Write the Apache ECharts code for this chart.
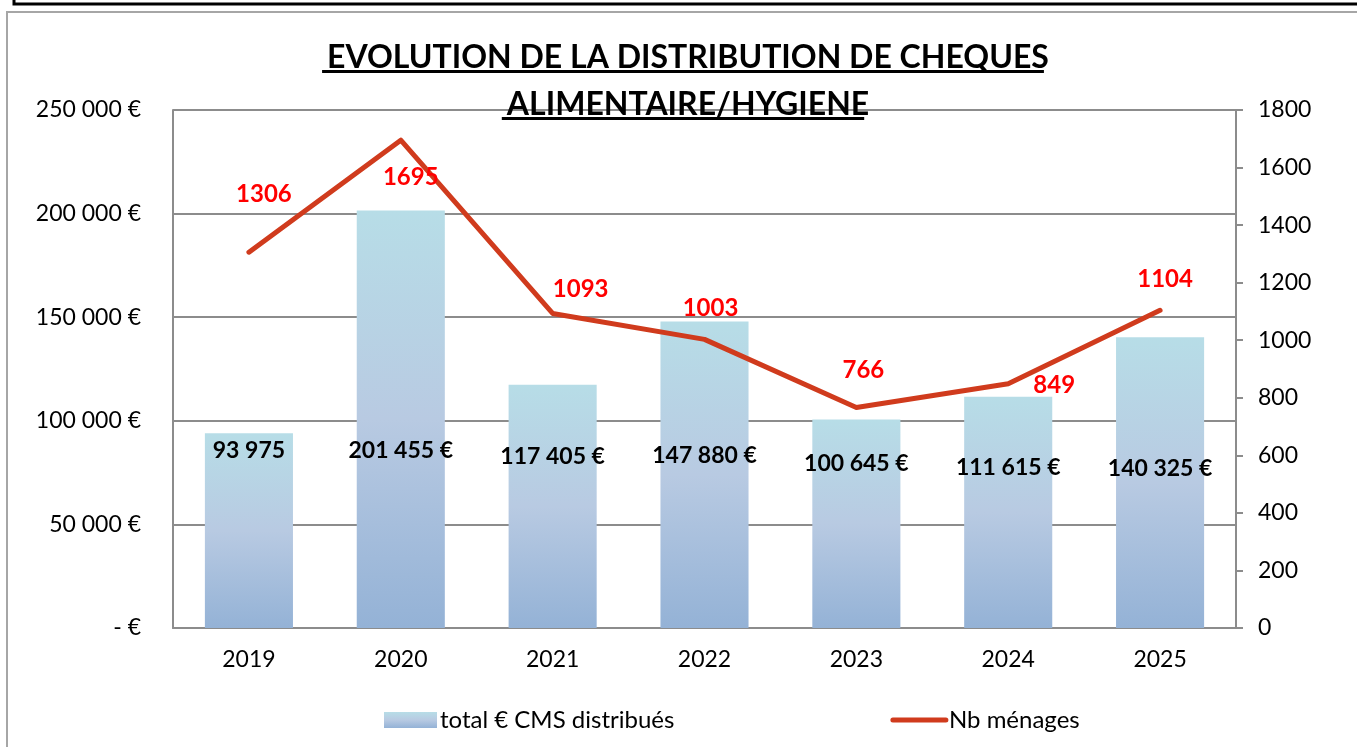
<!DOCTYPE html>
<html>
<head>
<meta charset="utf-8">
<script src="https://cdn.jsdelivr.net/npm/echarts@6/dist/echarts.min.js"></script>
<style>
  html, body { margin: 0; padding: 0; background: #fff; }
  #main { width: 1357px; height: 747px; }
</style>
</head>
<body>
<div id="main"></div>
<script>
// données
var years = ['2019', '2020', '2021', '2022', '2023', '2024', '2025'];
var totalEuros = [93975, 201455, 117405, 147880, 100645, 111615, 140325];
var nbMenages = [1306, 1695, 1093, 1003, 766, 849, 1104];

// placement des étiquettes (comme dans le classeur d'origine)
var lineLabelOffsets = [[15, -58], [10, 37], [28, -24], [6, -31], [7, -37], [46, 2], [5, -31]];
var barLabelLift = [178, 178, 172, 173, 165, 161, 160];

var FONT = 'Lato, "Open Sans", sans-serif';
var titleLines = ['EVOLUTION DE LA DISTRIBUTION DE CHEQUES', 'ALIMENTAIRE/HYGIENE'];
var titleSize = 32;

function spaced(v) {
  return String(v).replace(/\B(?=(\d{3})+(?!\d))/g, ' ');
}

// largeur du titre pour le soulignement
var ctx = document.createElement('canvas').getContext('2d');
ctx.font = 'bold ' + titleSize + 'px ' + FONT;
var cx = 683;
var underlines = titleLines.map(function (t, i) {
  var w = ctx.measureText(t).width;
  return {
    type: 'rect',
    shape: { x: cx - w / 2, y: 70 + i * 47, width: w, height: 3 },
    style: { fill: '#000' }
  };
});

var barGradient = new echarts.graphic.LinearGradient(0, 0, 0, 1, [
  { offset: 0, color: '#b7dde7' },
  { offset: 0.5, color: '#b8cae2' },
  { offset: 1, color: '#94b2d6' }
]);

var myChart = echarts.init(document.getElementById('main'));
myChart.setOption({
  animation: false,
  textStyle: { fontFamily: FONT },
  title: {
    text: titleLines.join('\n'),
    left: cx,
    textAlign: 'center',
    top: 29,
    textStyle: { fontSize: titleSize, fontWeight: 'bold', color: '#000', lineHeight: 47, fontFamily: FONT }
  },
  graphic: [
    { type: 'rect', shape: { x: 7, y: 12, width: 1400, height: 800 }, style: { fill: 'none', stroke: '#a6a6a6', lineWidth: 2 }, z: -1 },
    { type: 'polyline', shape: { points: [[14, -5], [14, 4], [1400, 4]] }, style: { fill: 'none', stroke: '#000', lineWidth: 3 } }
  ].concat(underlines),
  legend: {
    left: 379,
    top: 703,
    itemGap: 216,
    itemWidth: 53,
    itemHeight: 16,
    textStyle: { fontSize: 24, color: '#000', fontFamily: FONT, padding: [0, 0, 0, -2] },
    data: [
      { name: 'total € CMS distribués', icon: 'rect' },
      { name: 'Nb ménages', itemStyle: { opacity: 0 }, lineStyle: { width: 5, cap: 'round' } }
    ]
  },
  grid: { left: 173, right: 121, top: 110, bottom: 119 },
  xAxis: {
    type: 'category',
    data: years,
    axisLine: { lineStyle: { color: '#8c8c8c', width: 2 } },
    axisTick: { show: false },
    axisLabel: { fontSize: 23, color: '#000', margin: 20 }
  },
  yAxis: [{
    type: 'value',
    min: 0, max: 250000, interval: 50000,
    axisLine: { show: true, lineStyle: { color: '#8c8c8c', width: 2 } },
    axisTick: { show: false },
    splitLine: { lineStyle: { color: '#8c8c8c', width: 2 } },
    axisLabel: {
      fontSize: 23, color: '#000', margin: 32,
      formatter: function (v) { return v === 0 ? '- €' : spaced(v) + ' €'; }
    }
  }, {
    type: 'value',
    min: 0, max: 1800, interval: 200,
    axisLine: { show: true, lineStyle: { color: '#8c8c8c', width: 2 } },
    axisTick: { show: true, length: 7, lineStyle: { color: '#8c8c8c', width: 2 } },
    splitLine: { show: false },
    axisLabel: { fontSize: 23, color: '#000', margin: 22, formatter: function (v) { return String(v); } }
  }],
  series: [{
    name: 'total € CMS distribués',
    type: 'bar',
    barWidth: '58%',
    itemStyle: { color: barGradient },
    data: totalEuros.map(function (v, i) {
      return {
        value: v,
        label: { distance: barLabelLift[i] - 12 }
      };
    }),
    label: {
      show: true,
      position: 'insideBottom',
      fontSize: 23,
      fontWeight: 'bold',
      color: '#000',
      formatter: function (p) { return spaced(p.value) + (p.dataIndex === 0 ? '' : ' €'); }
    }
  }, {
    name: 'Nb ménages',
    type: 'line',
    yAxisIndex: 1,
    symbol: 'circle',
    symbolSize: 0,
    showSymbol: true,
    lineStyle: { color: '#d03b1d', width: 5, cap: 'round', join: 'round' },
    itemStyle: { color: '#d03b1d' },
    data: nbMenages.map(function (v, i) {
      return { value: v, label: { offset: lineLabelOffsets[i] } };
    }),
    label: {
      show: true,
      position: 'inside',
      fontSize: 24,
      fontWeight: 'bold',
      color: '#ff0000'
    },
    z: 3
  }]
});
</script>
</body>
</html>
